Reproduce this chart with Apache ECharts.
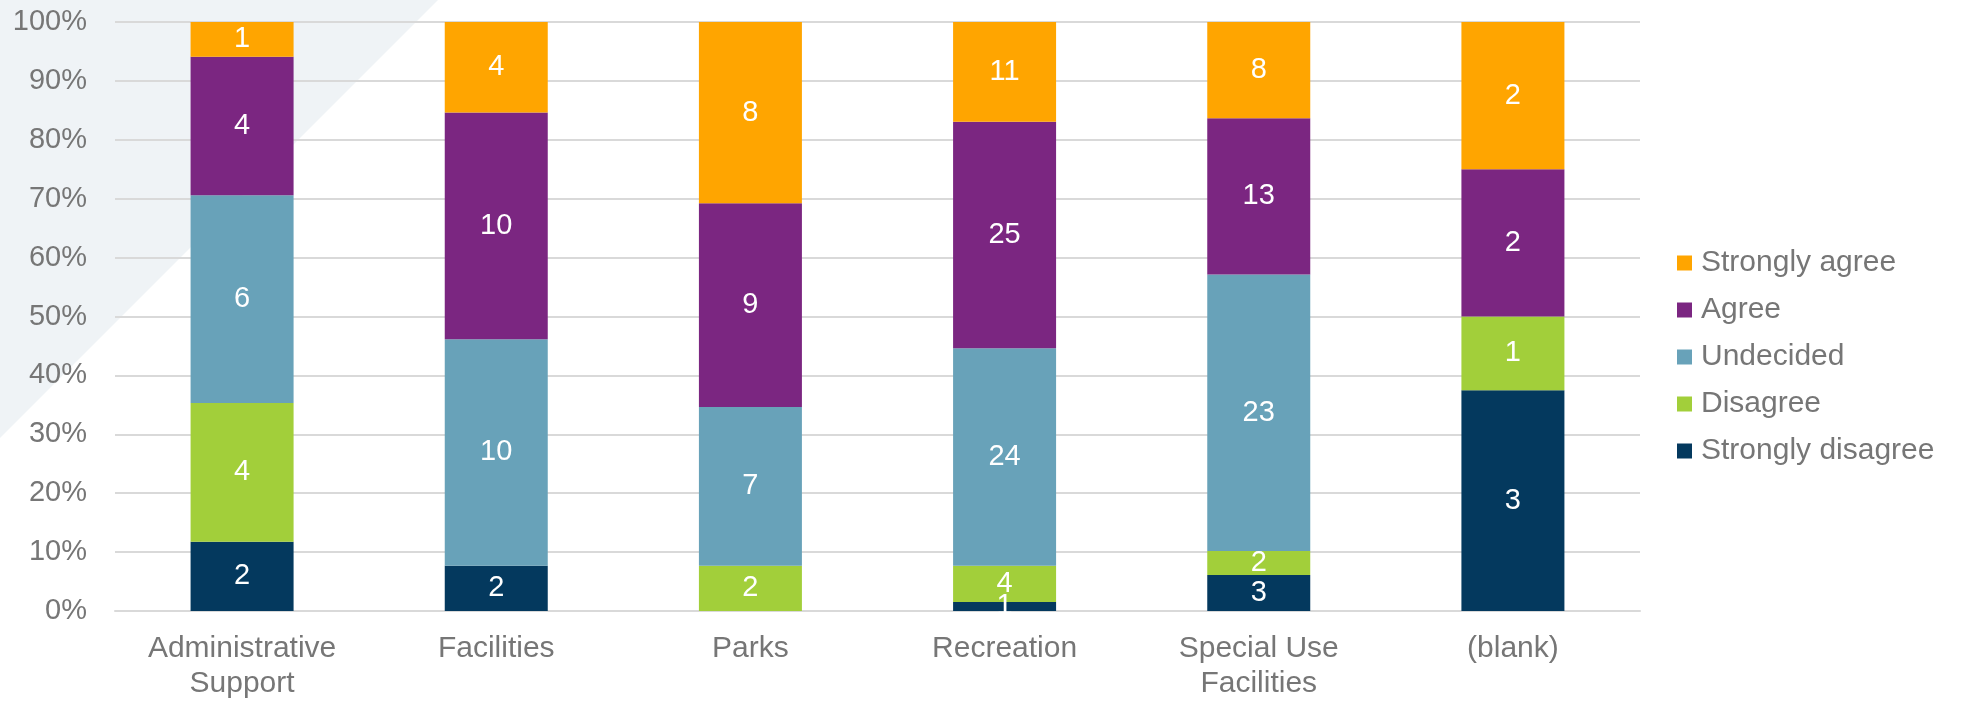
<!DOCTYPE html>
<html>
<head>
<meta charset="utf-8">
<script src="https://cdn.jsdelivr.net/npm/echarts@6/dist/echarts.min.js"></script>
<style>
html,body{margin:0;padding:0;background:#fff;}
#chart{width:1963px;height:701px;}
</style>
</head>
<body>
<div id="chart"></div>
<script>
const categories = ['Administrative\nSupport', 'Facilities', 'Parks', 'Recreation', 'Special Use\nFacilities', '(blank)'];
const stronglyDisagree = [2, 2, 0, 1, 3, 3];
const disagree = [4, 0, 2, 4, 2, 1];
const undecided = [6, 10, 7, 24, 23, 0];
const agree = [4, 10, 9, 25, 13, 2];
const stronglyAgree = [1, 4, 8, 11, 8, 2];
const yTicks = ['0%', '10%', '20%', '30%', '40%', '50%', '60%', '70%', '80%', '90%', '100%'];

const seriesDefs = [
  { name: 'Strongly disagree', data: stronglyDisagree, color: '#04395E' },
  { name: 'Disagree', data: disagree, color: '#A2CF3A' },
  { name: 'Undecided', data: undecided, color: '#68A2B9' },
  { name: 'Agree', data: agree, color: '#7B2681' },
  { name: 'Strongly agree', data: stronglyAgree, color: '#FFA500' }
];
const totals = categories.map((c, i) => seriesDefs.reduce((s, d) => s + d.data[i], 0));
const FONT = '"Liberation Sans", Arial, sans-serif';
const GRAY = '#767676';

const chart = echarts.init(document.getElementById('chart'));
chart.setOption({
  animation: false,
  textStyle: { fontFamily: FONT },
  graphic: [{
    type: 'polygon',
    z: -10,
    silent: true,
    shape: { points: [[0, 0], [438, 0], [0, 438]] },
    style: { fill: '#EFF3F6' }
  }],
  grid: { left: 115, right: 323, top: 22, bottom: 90, containLabel: false },
  legend: {
    orient: 'vertical',
    left: 1672,
    top: 242,
    itemWidth: 15,
    itemHeight: 15,
    itemGap: 15,
    icon: 'rect',
    data: ['Strongly agree', 'Agree', 'Undecided', 'Disagree', 'Strongly disagree'],
    textStyle: { fontSize: 30, color: GRAY, fontFamily: FONT, lineHeight: 32, padding: [0, 0, 0, 4] }
  },
  xAxis: {
    type: 'category',
    data: categories,
    axisLine: { lineStyle: { color: '#D9D9D9', width: 2 } },
    axisTick: { show: false },
    axisLabel: { fontSize: 30, color: GRAY, fontFamily: FONT, margin: 20, lineHeight: 35, interval: 0 }
  },
  yAxis: {
    type: 'value',
    min: 0,
    max: 100,
    interval: 10,
    axisLine: { show: false },
    axisTick: { show: false },
    splitLine: { lineStyle: { color: '#D9D9D9', width: 2 } },
    axisLabel: {
      fontSize: 29, color: GRAY, fontFamily: FONT, margin: 28,
      formatter: (v) => yTicks[Math.round(v / 10)]
    }
  },
  series: seriesDefs.map(d => ({
    name: d.name,
    type: 'bar',
    stack: 'total',
    barWidth: 103,
    itemStyle: { color: d.color },
    label: {
      show: true,
      position: 'inside',
      color: '#fff',
      fontSize: 29,
      fontFamily: FONT,
      formatter: (p) => d.data[p.dataIndex] > 0 ? String(d.data[p.dataIndex]) : ''
    },
    data: d.data.map((v, i) => v / totals[i] * 100)
  }))
});
</script>
</body>
</html>
